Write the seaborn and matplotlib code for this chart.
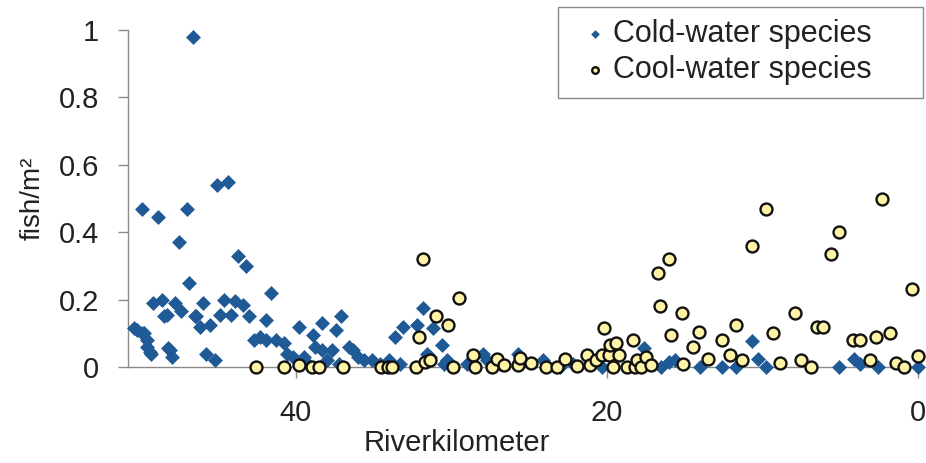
import matplotlib
matplotlib.use("Agg")
import matplotlib.pyplot as plt
import seaborn as sns
import pandas as pd

# ---- data ----
cold_km = [50.2, 50.4, 49.9, 49.9, 49.8, 49.6, 49.6, 49.4, 49.3, 49.2, 48.9, 48.6, 48.5,
           48.3, 48.2, 48.1, 48.0, 47.8, 47.4, 47.5, 47.0, 46.9, 46.6, 46.5, 46.4, 46.2,
           46.0, 45.5, 45.8, 45.2, 45.1, 44.4, 44.9, 44.6, 44.2, 43.9, 43.7, 43.2, 43.4,
           43.0, 42.7, 42.3, 41.9, 41.9, 41.6, 41.3, 40.8, 40.6, 40.2, 39.8, 39.5, 39.2,
           38.9, 38.8, 38.3, 38.3, 38.0, 37.7, 37.4, 37.2, 37.1, 36.6, 36.3, 36.0, 35.6,
           35.1, 34.6, 34.0, 33.6, 33.3, 33.1, 32.2, 31.8, 31.6, 31.4, 31.2, 30.6, 30.5,
           30.3, 29.0, 28.0, 27.7, 26.9, 25.7, 24.1, 23.0, 22.2, 20.3, 17.6, 16.5, 16.0,
           15.6, 14.0, 12.6, 11.7, 10.7, 10.3, 9.8, 5.1, 4.1, 3.7, 2.6, 0.0]
cold_fish = [0.11, 0.115, 0.47, 0.10, 0.10, 0.08, 0.06, 0.045, 0.04, 0.19, 0.445, 0.20, 0.15,
             0.155, 0.055, 0.05, 0.03, 0.19, 0.165, 0.37, 0.47, 0.25, 0.98, 0.15, 0.15, 0.12,
             0.19, 0.125, 0.04, 0.02, 0.54, 0.55, 0.155, 0.20, 0.155, 0.195, 0.33, 0.30, 0.185,
             0.15, 0.08, 0.09, 0.14, 0.08, 0.22, 0.08, 0.07, 0.04, 0.03, 0.12, 0.03, 0.01,
             0.095, 0.06, 0.13, 0.05, 0.02, 0.05, 0.11, 0.01, 0.15, 0.06, 0.05, 0.03, 0.02,
             0.02, 0.01, 0.02, 0.09, 0.01, 0.12, 0.125, 0.175, 0.04, 0.03, 0.115, 0.065, 0.01,
             0.02, 0.01, 0.04, 0.02, 0.01, 0.04, 0.02, 0.00, 0.01, 0.00, 0.055, 0.00, 0.016,
             0.02, 0.00, 0.00, 0.00, 0.078, 0.023, 0.00, 0.00, 0.023, 0.01, 0.00, 0.00]

cool_km = [42.6, 40.8, 39.8, 39.0, 38.5, 37.0, 34.5, 34.1, 33.8, 32.3, 32.1, 31.8, 31.7,
           31.4, 31.0, 30.2, 29.9, 29.5, 28.6, 28.5, 27.4, 27.1, 26.6, 25.7, 25.6, 24.9,
           23.9, 23.2, 22.7, 21.9, 21.3, 21.1, 20.7, 20.3, 20.2, 19.9, 19.8, 19.6, 19.4,
           19.2, 18.7, 18.3, 18.2, 18.1, 17.8, 17.5, 17.2, 16.7, 16.6, 16.0, 15.9, 15.2,
           15.1, 14.5, 14.1, 13.5, 12.6, 12.1, 11.7, 11.3, 10.7, 9.8, 9.3, 8.9, 7.9, 7.5,
           6.9, 6.5, 6.1, 5.6, 5.1, 4.2, 3.7, 3.1, 2.7, 2.3, 1.8, 1.4, 0.9, 0.4, 0.0]
cool_fish = [0.00, 0.00, 0.005, 0.00, 0.00, 0.00, 0.00, 0.00, 0.00, 0.00, 0.09, 0.32, 0.015,
             0.02, 0.15, 0.125, 0.00, 0.205, 0.035, 0.00, 0.00, 0.024, 0.006, 0.006, 0.026, 0.013,
             0.00, 0.00, 0.024, 0.003, 0.035, 0.005, 0.02, 0.035, 0.117, 0.035, 0.065, 0.00, 0.07,
             0.035, 0.00, 0.08, 0.00, 0.02, 0.00, 0.03, 0.005, 0.28, 0.18, 0.32, 0.095, 0.16,
             0.01, 0.06, 0.105, 0.025, 0.08, 0.035, 0.125, 0.02, 0.36, 0.47, 0.10, 0.013, 0.16, 0.02,
             0.00, 0.12, 0.12, 0.335, 0.40, 0.08, 0.08, 0.02, 0.09, 0.50, 0.10, 0.013, 0.00, 0.23, 0.033]

series_labels = ["Cold-water species", "Cool-water species"]
x_ticks = [40, 20, 0]
y_ticks = [0, 0.2, 0.4, 0.6, 0.8, 1.0]
y_ticklabels = ["0", "0.2", "0.4", "0.6", "0.8", "1"]

cold_df = pd.DataFrame({"km": cold_km, "fish": cold_fish})
cool_df = pd.DataFrame({"km": cool_km, "fish": cool_fish})

# ---- styling ----
sns.set_style("white")
plt.rcParams["font.family"] = ["Liberation Sans", "DejaVu Sans"]

W, H = 926, 463
fig = plt.figure(figsize=(W / 100, H / 100), dpi=100, facecolor="white")
ax = fig.add_axes([128 / W, 1 - 367 / H, (918 - 128) / W, (367 - 30) / H])
ax.set_facecolor("white")

sns.scatterplot(data=cold_df, x="km", y="fish", marker="D", s=50, color="#1F5A96",
                edgecolor="#1F5A96", linewidth=0.5, label=series_labels[0], ax=ax,
                clip_on=False, zorder=3)
sns.scatterplot(data=cool_df, x="km", y="fish", marker="o", s=74, color="#FFF3A6",
                edgecolor="#111111", linewidth=1.7, label=series_labels[1], ax=ax,
                clip_on=False, zorder=4)

ax.set_xlim(50.8, 0)
ax.set_ylim(0, 1)
ax.set_xticks(x_ticks)
ax.set_xticklabels([str(t) for t in x_ticks])
ax.set_yticks(y_ticks)
ax.set_yticklabels(y_ticklabels)

for side in ["top", "right"]:
    ax.spines[side].set_visible(False)
for side in ["left", "bottom"]:
    ax.spines[side].set_color("#8a8a8a")
    ax.spines[side].set_linewidth(1.0)

ax.tick_params(axis="y", direction="out", length=7, width=1, color="#8a8a8a",
               pad=14, labelsize=21, labelcolor="#222222", left=True)
ax.tick_params(axis="x", direction="out", length=8, width=1, color="#8a8a8a",
               pad=15, labelsize=21, labelcolor="#222222", bottom=True)

ax.set_xlabel("Riverkilometer", fontsize=21, color="#222222")
ax.xaxis.set_label_coords(0.416, -0.185)
ax.set_ylabel("fish/m²", fontsize=20, color="#222222")
ax.yaxis.set_label_coords(-0.104, 0.5)

leg = ax.legend(loc="upper left",
                bbox_to_anchor=(558 / W, 1 - 96 / H, (923 - 558) / W, (96 - 7) / H),
                bbox_transform=fig.transFigure, mode="expand", fontsize=22,
                frameon=True, fancybox=False, framealpha=1, edgecolor="#8a8a8a",
                markerscale=0.55, handletextpad=-0.2, labelspacing=0.2,
                borderpad=0.4, handlelength=1.6, borderaxespad=0)
leg.get_frame().set_linewidth(1.0)
for t in leg.get_texts():
    t.set_color("#222222")

fig.savefig("out.png", dpi=100, facecolor="white")
